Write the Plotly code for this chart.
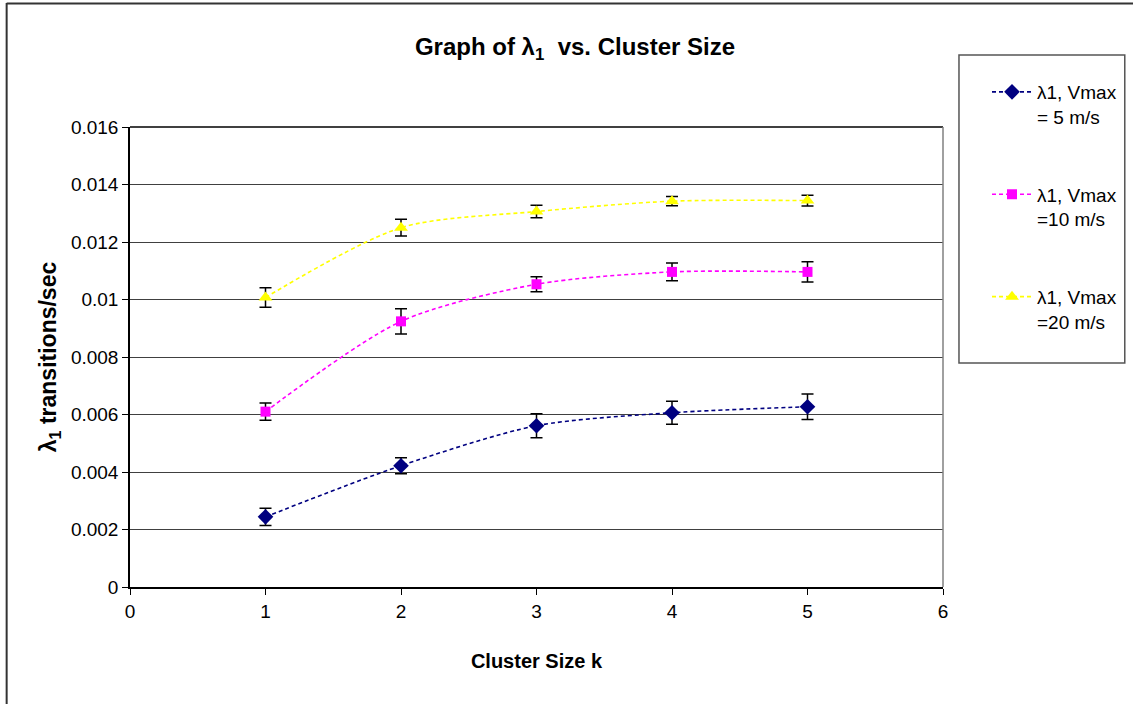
import plotly.graph_objects as go

# ---- data ----
cluster_size = [1, 2, 3, 4, 5]

v5_values = [0.00244, 0.00422, 0.00561, 0.00606, 0.00627]
v5_errors = [0.00030, 0.00028, 0.00042, 0.00040, 0.00044]

v10_values = [0.00610, 0.00924, 0.01053, 0.01096, 0.01096]
v10_errors = [0.00030, 0.00044, 0.00026, 0.00031, 0.00035]

v20_values = [0.01007, 0.01250, 0.01306, 0.01342, 0.01344]
v20_errors = [0.00034, 0.00029, 0.00022, 0.00016, 0.00019]

series_names = ["λ1, Vmax<br>= 5 m/s", "λ1, Vmax<br>=10 m/s", "λ1, Vmax<br>=20 m/s"]
y_tick_vals = [0, 0.002, 0.004, 0.006, 0.008, 0.010, 0.012, 0.014, 0.016]
y_tick_text = ["0", "0.002", "0.004", "0.006", "0.008", "0.01", "0.012", "0.014", "0.016"]
x_tick_vals = [0, 1, 2, 3, 4, 5, 6]

# ---- figure geometry (page pixels; body margin removed by post_script) ----
W, H = 1133, 704
L, R, T, B = 130, 944, 127, 587
pw, ph = R - L, B - T


def px_x(px):
    return (px - L) / pw


def px_y(py):
    return (B - py) / ph


FONT = "Liberation Sans, Arial, sans-serif"

fig = go.Figure()

styles = [
    dict(color="#000080", symbol="diamond", size=12),
    dict(color="#FF00FF", symbol="square", size=10),
    dict(color="#FFFF00", symbol="triangle-up", size=12),
]
values = [v5_values, v10_values, v20_values]
errors = [v5_errors, v10_errors, v20_errors]

for i, (name, vals, errs, st) in enumerate(zip(series_names, values, errors, styles)):
    fig.add_trace(go.Scatter(
        x=cluster_size, y=vals, name=name, mode="lines+markers",
        legendgroup=f"g{i}",
        line=dict(color=st["color"], width=1.6, dash="4px,3px", shape="spline", smoothing=0.8),
        marker=dict(color=st["color"], symbol=st["symbol"], size=st["size"], line=dict(width=0)),
        error_y=dict(type="data", array=errs, visible=True, color="black", thickness=1.5, width=6),
    ))

fig.update_layout(
    width=W, height=H,
    margin=dict(l=L, r=W - R, t=T, b=H - B, pad=0),
    paper_bgcolor="white", plot_bgcolor="white",
    font=dict(family=FONT, size=19, color="black"),
    title=dict(text="<b>Graph of λ<sub>1</sub>  vs. Cluster Size</b>", x=575 / W, xref="container",
               xanchor="center", y=1 - 47 / H, yref="container", yanchor="middle",
               font=dict(size=24, family=FONT, color="black")),
    showlegend=True,
    legend=dict(x=px_x(987), y=px_y(73), xanchor="left", yanchor="top",
                traceorder="grouped", tracegroupgap=50, valign="top",
                font=dict(size=19, family=FONT, color="black"),
                bgcolor="rgba(0,0,0,0)", borderwidth=0, itemwidth=40),
    xaxis=dict(range=[0, 6], tickvals=x_tick_vals, showgrid=False, zeroline=False,
               showline=True, linecolor="black", linewidth=1.5,
               ticks="outside", ticklen=6, tickcolor="black", tickfont=dict(size=19),
               title=dict(text="<b>Cluster Size k</b>", font=dict(size=20), standoff=33)),
    yaxis=dict(range=[0, 0.016], tickvals=y_tick_vals, ticktext=y_tick_text,
               showgrid=True, gridcolor="#404040", gridwidth=1, zeroline=False,
               showline=True, linecolor="black", linewidth=1.5,
               ticks="outside", ticklen=6, tickcolor="black", tickfont=dict(size=19),
               title=dict(text="<b>λ<sub>1</sub> transitions/sec</b>", font=dict(size=23), standoff=8)),
)

# plot area top and right border
fig.add_shape(type="line", xref="paper", yref="paper", x0=0, x1=1, y0=1, y1=1,
              line=dict(color="black", width=1.5))
fig.add_shape(type="line", xref="paper", yref="paper", x0=1, x1=1, y0=0, y1=1,
              line=dict(color="#808080", width=1.5))

# legend box
fig.add_shape(type="rect", xref="paper", yref="paper",
              x0=px_x(960), x1=px_x(1126), y0=px_y(363), y1=px_y(55),
              line=dict(color="#555555", width=1.5), fillcolor="rgba(0,0,0,0)", layer="below")

# outer chart border (left and top)
fig.add_shape(type="line", xref="paper", yref="paper", x0=px_x(6.5), x1=px_x(6.5),
              y0=px_y(3), y1=px_y(H + 10), line=dict(color="#333333", width=2))
fig.add_shape(type="line", xref="paper", yref="paper", x0=px_x(6.5), x1=px_x(W + 10),
              y0=px_y(3.5), y1=px_y(3.5), line=dict(color="#333333", width=2))

fig.write_html("out.html",
               config={"displayModeBar": False},
               post_script="document.body.style.margin='0px';document.body.style.overflow='hidden';")
